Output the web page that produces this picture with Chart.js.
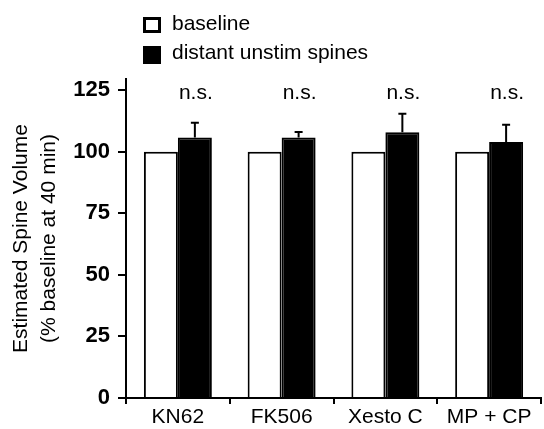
<!DOCTYPE html>
<html>
<head>
<meta charset="utf-8">
<script src="https://cdn.jsdelivr.net/npm/chart.js@4.4.1/dist/chart.umd.min.js"></script>
<style>
html,body{margin:0;padding:0;background:#fff;}
#wrap{width:544px;height:429px;}
</style>
</head>
<body>
<div id="wrap"><canvas id="c" width="544" height="429"></canvas></div>
<script>
const categories = ["KN62", "FK506", "Xesto C", "MP + CP"];
const baselineValues = [100, 100, 100, 100];
const unstimValues = [105.8, 105.8, 107.9, 103.9];
const unstimErrors = [5.9, 2.2, 7.5, 7.0];
const sigLabels = ["n.s.", "n.s.", "n.s.", "n.s."];
const legendLabels = ["baseline", "distant unstim spines"];
const yTitle = ["Estimated Spine Volume", "(% baseline at 40 min)"];

const FONT = "Arial, 'Liberation Sans', sans-serif";

const extrasPlugin = {
  id: 'extras',
  afterDatasetsDraw(chart) {
    const ctx = chart.ctx;
    const y = chart.scales.y;
    const meta = chart.getDatasetMeta(1);
    ctx.save();
    ctx.strokeStyle = '#000';
    ctx.lineWidth = 2;
    meta.data.forEach((bar, i) => {
      const top = y.getPixelForValue(unstimValues[i]);
      const et = y.getPixelForValue(unstimValues[i] + unstimErrors[i]);
      ctx.beginPath();
      ctx.moveTo(bar.x, top);
      ctx.lineTo(bar.x, et);
      ctx.moveTo(bar.x - 4, et);
      ctx.lineTo(bar.x + 4, et);
      ctx.stroke();
      ctx.fillStyle = '#000';
      ctx.font = "21px " + FONT;
      ctx.textAlign = 'center';
      ctx.textBaseline = 'middle';
      ctx.fillText(sigLabels[i], bar.x + 1, y.getPixelForValue(125) + 3);
    });
    // legend
    ctx.font = "21px " + FONT;
    ctx.textAlign = 'left';
    ctx.textBaseline = 'alphabetic';
    ctx.fillStyle = '#fff';
    ctx.lineWidth = 3;
    ctx.fillRect(144.5, 18.5, 15, 13);
    ctx.strokeRect(144.5, 18.5, 15, 13);
    ctx.fillStyle = '#000';
    ctx.fillRect(143, 46, 18, 18);
    ctx.fillText(legendLabels[0], 172, 30);
    ctx.fillText(legendLabels[1], 172, 59);
    ctx.restore();
  }
};

new Chart(document.getElementById('c'), {
  type: 'bar',
  data: {
    labels: categories,
    datasets: [
      { label: legendLabels[0], data: baselineValues, backgroundColor: '#fff', borderColor: '#000', borderWidth: 2 },
      { label: legendLabels[1], data: unstimValues, backgroundColor: '#000', borderColor: '#000', borderWidth: 2 }
    ]
  },
  options: {
    responsive: false,
    animation: false,
    devicePixelRatio: 1,
    layout: { padding: { left: 0, top: 79, right: 3, bottom: 0 } },
    plugins: { legend: { display: false }, tooltip: { enabled: false } },
    datasets: { bar: { categoryPercentage: 0.655, barPercentage: 1.0 } },
    scales: {
      x: {
        type: 'category',
        offset: true,
        afterFit(s) { s.height = 31; },
        grid: { display: true, drawOnChartArea: false, drawTicks: true, tickLength: 6, color: '#000', lineWidth: 2, offset: true },
        border: { display: true, color: '#000', width: 2 },
        ticks: { color: '#000', font: { family: FONT, size: 21 }, padding: 1, maxRotation: 0 }
      },
      y: {
        min: 0,
        max: 129.5,
        afterFit(s) { s.width = 126; },
        grid: { display: true, drawOnChartArea: false, drawTicks: true, tickLength: 8, color: '#000', lineWidth: 2 },
        border: { display: true, color: '#000', width: 2 },
        ticks: { stepSize: 25, includeBounds: false, color: '#000', font: { family: FONT, size: 22, weight: 'bold' }, padding: 8 },
        title: { display: true, text: yTitle, color: '#000', font: { family: FONT, size: 21, lineHeight: 1.3 }, padding: { top: 8, bottom: 0 } }
      }
    }
  },
  plugins: [extrasPlugin]
});
</script>
</body>
</html>
